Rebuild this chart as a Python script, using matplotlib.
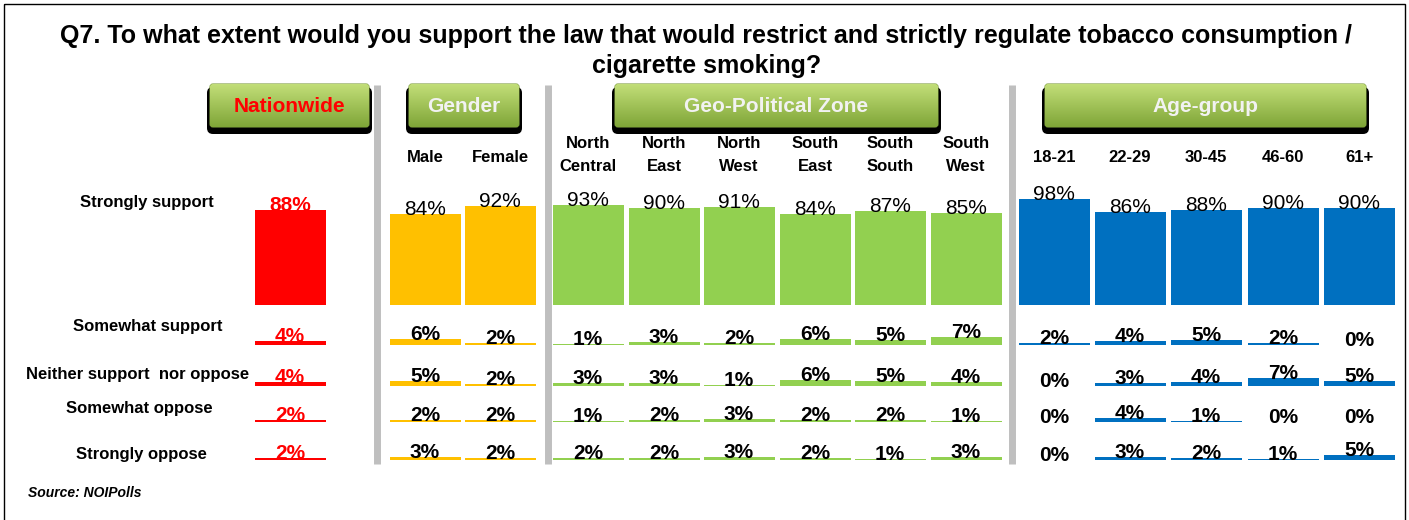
import numpy as np
import matplotlib.pyplot as plt
from matplotlib.patches import FancyBboxPatch, Rectangle

# Survey data (percent), one list per column
responses = ["Strongly support", "Somewhat support", "Neither support  nor oppose",
             "Somewhat oppose", "Strongly oppose"]

nationwide = [88, 4, 4, 2, 2]

gender_labels = ["Male", "Female"]
male = [84, 6, 5, 2, 3]
female = [92, 2, 2, 2, 2]

zone_labels = ["North\nCentral", "North\nEast", "North\nWest", "South\nEast",
               "South\nSouth", "South\nWest"]
north_central = [93, 1, 3, 1, 2]
north_east = [90, 3, 3, 2, 2]
north_west = [91, 2, 1, 3, 3]
south_east = [84, 6, 6, 2, 2]
south_south = [87, 5, 5, 2, 1]
south_west = [85, 7, 4, 1, 3]

age_labels = ["18-21", "22-29", "30-45", "46-60", "61+"]
age_18_21 = [98, 2, 0, 0, 0]
age_22_29 = [86, 4, 3, 4, 3]
age_30_45 = [88, 5, 4, 1, 2]
age_46_60 = [90, 2, 7, 0, 1]
age_61 = [90, 0, 5, 0, 5]

group_titles = ["Nationwide", "Gender", "Geo-Political Zone", "Age-group"]

title = ("Q7. To what extent would you support the law that would restrict and strictly "
         "regulate tobacco consumption /\ncigarette smoking?")

# layout (pixel coordinates, y grows downward)
W, H = 1409, 520
row_base = [305, 345, 386, 422, 460]
px_per_pct = 1.08
bar_w = 71
FONT = "Liberation Sans"

columns = [
    (290, nationwide, "#FF0000"),
    (425, male, "#FFC000"), (500, female, "#FFC000"),
    (588, north_central, "#92D050"), (664, north_east, "#92D050"),
    (739, north_west, "#92D050"), (815, south_east, "#92D050"),
    (890, south_south, "#92D050"), (966, south_west, "#92D050"),
    (1054, age_18_21, "#0070C0"), (1130, age_22_29, "#0070C0"),
    (1206, age_30_45, "#0070C0"), (1283, age_46_60, "#0070C0"),
    (1359, age_61, "#0070C0"),
]

fig = plt.figure(figsize=(W / 100, H / 100), dpi=100)
ax = fig.add_axes([0, 0, 1, 1])

# bars + value labels
for ci, (xc, vals, color) in enumerate(columns):
    vals = np.array(vals, dtype=float)
    heights = vals * px_per_pct
    ax.bar([xc] * len(vals), -heights, bottom=row_base, width=bar_w,
           color=color, linewidth=0, zorder=3)
    for ri, v in enumerate(vals):
        top = row_base[ri] - heights[ri]
        is_nat = ci == 0
        ax.text(xc, top + 1, f"{int(v)}%", ha="center", va="baseline",
                fontsize=15,
                fontweight="bold" if (is_nat or ri > 0) else "normal",
                color="#FF0000" if is_nat else "black",
                family=FONT, zorder=4)

# row labels
row_label_x = [147, 148, 138, 139, 141]
row_label_y = [203, 327, 374, 409, 455]
for lab, x, y in zip(responses, row_label_x, row_label_y):
    ax.text(x, y, lab, ha="center", va="center", fontsize=12,
            fontweight="bold", family=FONT)

# column headers
for lab, (xc, _, _) in zip(gender_labels, columns[1:3]):
    ax.text(xc, 157, lab, ha="center", va="center", fontsize=12,
            fontweight="bold", family=FONT)
for lab, (xc, _, _) in zip(zone_labels, columns[3:9]):
    ax.text(xc, 155, lab, ha="center", va="center", fontsize=12,
            fontweight="bold", family=FONT, linespacing=1.65)
for lab, (xc, _, _) in zip(age_labels, columns[9:]):
    ax.text(xc, 157, lab, ha="center", va="center", fontsize=12,
            fontweight="bold", family=FONT)

# grey separators
ax.vlines([377, 548, 1012], 85, 464, color="#BFBFBF", linewidth=5, zorder=1)

# green header buttons with shadow and gradient
boxes = [(210, 369), (409, 519), (615, 938), (1045, 1366)]
grad = np.linspace(0, 1, 64).reshape(-1, 1)
top_c = np.array([0.76, 0.87, 0.47])
bot_c = np.array([0.50, 0.65, 0.22])
img = top_c + (bot_c - top_c) * grad
img = img.reshape(64, 1, 3)
for (x0, x1), name in zip(boxes, group_titles):
    y0, y1 = 84, 127
    shadow = FancyBboxPatch((x0 - 3, y0 + 3), x1 - x0 + 6, y1 - y0 + 4,
                            boxstyle="round,pad=0,rounding_size=6",
                            fc="black", ec="none", zorder=5)
    ax.add_patch(shadow)
    box = FancyBboxPatch((x0, y0), x1 - x0, y1 - y0,
                         boxstyle="round,pad=0,rounding_size=3",
                         fc="#9BBB59", ec="#7A9A3A", linewidth=0.8, zorder=6)
    ax.add_patch(box)
    im = ax.imshow(img, extent=[x0, x1, y1, y0], aspect="auto", zorder=6.5,
                   interpolation="bilinear")
    im.set_clip_path(box)
    ax.text((x0 + x1) / 2, (y0 + y1) / 2 + 1, name, ha="center", va="center",
            fontsize=15, fontweight="bold",
            color="#FF0000" if name == "Nationwide" else "#F2F2F2",
            family=FONT, zorder=7)

# title and source
ax.text(W / 2 + 2, 51, title, ha="center", va="center", fontsize=18,
        fontweight="bold", family=FONT, linespacing=1.3)
ax.text(28, 493, "Source: NOIPolls", ha="left", va="center", fontsize=10,
        fontweight="bold", fontstyle="italic", family=FONT)

# outer frame
ax.add_patch(Rectangle((3.5, 3.5), 1401, 530, fill=False, ec="black", lw=1, zorder=8))

ax.set_xlim(0, W)
ax.set_ylim(H, 0)
ax.axis("off")
fig.savefig("out.png", dpi=100)
